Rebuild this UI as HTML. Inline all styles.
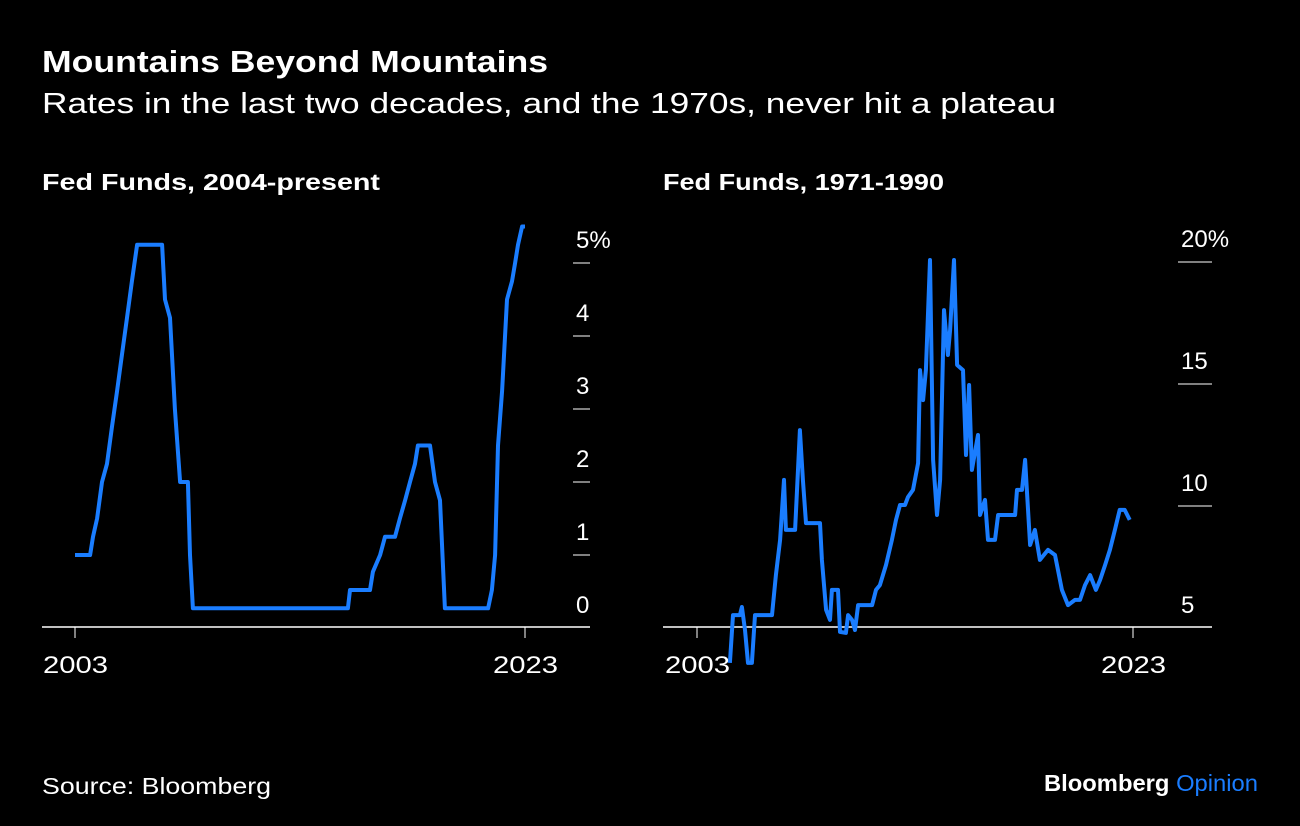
<!DOCTYPE html>
<html><head><meta charset="utf-8"><style>
body{margin:0;background:#000;width:1300px;height:826px;overflow:hidden;font-family:"Liberation Sans",sans-serif;color:#fff}
svg{position:absolute;left:0;top:0}
</style></head><body>
<svg width="1300" height="826" font-family="Liberation Sans, sans-serif">
<text x="42" y="72" font-size="31" font-weight="bold" fill="#fff" textLength="506" lengthAdjust="spacingAndGlyphs">Mountains Beyond Mountains</text>
<text x="42" y="113" font-size="29" fill="#fff" textLength="1014" lengthAdjust="spacingAndGlyphs">Rates in the last two decades, and the 1970s, never hit a plateau</text>
<text x="42" y="190" font-size="23" font-weight="bold" fill="#fff" textLength="338" lengthAdjust="spacingAndGlyphs">Fed Funds, 2004-present</text>
<text x="663" y="190" font-size="23" font-weight="bold" fill="#fff" textLength="281" lengthAdjust="spacingAndGlyphs">Fed Funds, 1971-1990</text>
<text x="42" y="794" font-size="23" fill="#fff" textLength="229" lengthAdjust="spacingAndGlyphs">Source: Bloomberg</text>
<text x="1044" y="791" font-size="23" font-weight="bold" textLength="214" lengthAdjust="spacingAndGlyphs"><tspan fill="#fff">Bloomberg </tspan><tspan fill="#1a7dff" font-weight="normal">Opinion</tspan></text>
<g id="left"></g><g id="right"></g>
</svg>
<script>
const leftYears=[2003.0,2003.67,2003.8,2003.98,2004.2,2004.42,2004.64,2004.87,2005.09,2005.31,2005.53,2005.76,2006.87,2007.0,2007.22,2007.44,2007.67,2008.02,2008.11,2008.24,2015.13,2015.22,2016.11,2016.24,2016.56,2016.78,2017.22,2017.44,2017.67,2017.89,2018.11,2018.24,2018.78,2019.0,2019.22,2019.44,2021.36,2021.53,2021.67,2021.8,2021.98,2022.2,2022.42,2022.56,2022.69,2022.87,2023.0];
const leftRates=[1.0,1.0,1.25,1.5,2.0,2.25,2.75,3.25,3.75,4.25,4.75,5.25,5.25,4.5,4.25,3.0,2.0,2.0,1.0,0.27,0.27,0.52,0.52,0.77,1.0,1.25,1.25,1.5,1.75,2.0,2.25,2.5,2.5,2.0,1.75,0.27,0.27,0.52,1.0,2.5,3.25,4.5,4.75,5.0,5.25,5.5,5.5];
const leftTicks=[0,1,2,3,4,5];
const leftTickLabels=["0","1","2","3","4","5%"];
const rightYears=[2004.51,2004.65,2004.97,2005.06,2005.2,2005.34,2005.52,2005.66,2006.44,2006.62,2006.81,2006.99,2007.08,2007.5,2007.72,2007.86,2008.0,2008.64,2008.73,2008.92,2009.1,2009.19,2009.47,2009.56,2009.83,2009.93,2010.11,2010.25,2010.39,2011.03,2011.21,2011.39,2011.67,2011.94,2012.13,2012.31,2012.54,2012.68,2012.91,2013.14,2013.23,2013.37,2013.5,2013.69,2013.83,2014.01,2014.15,2014.33,2014.51,2014.61,2014.79,2014.93,2015.2,2015.34,2015.48,2015.61,2015.89,2015.98,2016.21,2016.35,2016.67,2016.81,2017.59,2017.68,2017.91,2018.05,2018.28,2018.5,2018.73,2019.1,2019.42,2019.74,2020.02,2020.34,2020.57,2020.8,2021.03,2021.3,2021.49,2021.72,2021.94,2022.17,2022.39,2022.62,2022.85];
const rightRates=[3.57,5.53,5.53,5.86,4.92,3.57,3.57,5.53,5.53,7.17,8.61,11.07,9.02,9.02,13.11,11.07,9.3,9.3,7.79,5.74,5.33,6.56,6.56,4.84,4.8,5.53,5.33,4.92,5.94,5.94,6.56,6.76,7.58,8.61,9.43,10.04,10.04,10.37,10.66,11.76,15.57,14.34,15.57,20.08,11.89,9.63,11.07,18.03,16.19,17.21,20.08,15.78,15.57,12.09,14.96,11.48,12.91,9.63,10.25,8.61,8.61,9.63,9.63,10.66,10.66,11.89,8.4,9.02,7.79,8.2,7.99,6.56,5.94,6.15,6.15,6.76,7.17,6.56,6.97,7.58,8.2,9.02,9.84,9.84,9.43];
const rightTicks=[5,10,15,20];
const rightTickLabels=["5","10","15","20%"];
const xTickYears=[2003,2023];
const NS="http://www.w3.org/2000/svg";
function mk(tag,attrs,parent,text){const e=document.createElementNS(NS,tag);for(const k in attrs)e.setAttribute(k,attrs[k]);if(text!==undefined)e.textContent=text;parent.appendChild(e);return e;}
function drawChart(g,cfg){
  const xs=y=>cfg.x0+(y-2003)*(cfg.x1-cfg.x0)/20;
  const ys=v=>cfg.yA+(v-cfg.vA)*(cfg.yB-cfg.yA)/(cfg.vB-cfg.vA);
  const ax=mk('line',{x1:cfg.axL,x2:cfg.axR,y1:627,y2:627,stroke:'#fff','stroke-width':1.5},g);
  
  
  xTickYears.forEach(yr=>{
    const t=mk('line',{x1:xs(yr),x2:xs(yr),y1:627,y2:638,stroke:'#fff','stroke-width':1},g);
    
    
    const l=mk('text',{x:xs(yr)-32,y:673,'font-size':24,fill:'#fff',textLength:65,lengthAdjust:'spacingAndGlyphs'},g,String(yr));
    
    
  });
  cfg.ticks.forEach((v,i)=>{
    const y=ys(v);
    if(Math.abs(y-627)>2){
      const t=mk('line',{x1:cfg.tx1,x2:cfg.tx2,y1:y,y2:y,stroke:'#fff','stroke-width':1},g);
      
      
    }
    const l=mk('text',{x:cfg.lx,y:y-15,'font-size':24,fill:'#fff'},g,cfg.labels[i]);
    
    
  });
  const d=cfg.years.map((yr,i)=>(i?'L':'M')+xs(yr).toFixed(1)+','+ys(cfg.vals[i]).toFixed(1)).join('');
  const p=mk('path',{d:d,fill:'none',stroke:'#1a7dff','stroke-width':4,'stroke-linejoin':'round'},g);
  
  
}
drawChart(document.getElementById('left'),{x0:75,x1:525,axL:42,axR:590,yA:555,vA:1,yB:482,vB:2,ticks:leftTicks,labels:leftTickLabels,years:leftYears,vals:leftRates,tx1:573,tx2:590,lx:576});
drawChart(document.getElementById('right'),{x0:697,x1:1133,axL:663,axR:1212,yA:628,vA:5,yB:262,vB:20,ticks:rightTicks,labels:rightTickLabels,years:rightYears,vals:rightRates,tx1:1178,tx2:1212,lx:1181});
</script>
</body></html>
